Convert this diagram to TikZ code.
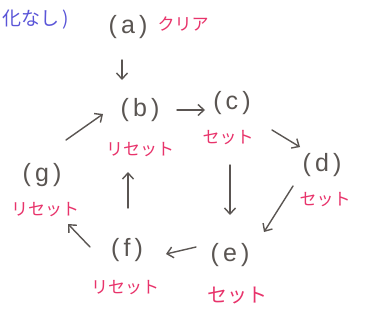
\documentclass[tikz,border=0pt]{standalone}
\usepackage{fontspec}
\setmainfont{Liberation Sans}
\newfontfamily\jpfont{Noto Sans CJK JP}
\usetikzlibrary{arrows.meta}
\definecolor{ink}{HTML}{5A5552}
\definecolor{redink}{HTML}{E8336B}
\definecolor{blueink}{HTML}{5A55D8}
\tikzset{
  st/.style={text=ink, font=\fontsize{25}{27}\selectfont, inner sep=1pt},
  lbl/.style={text=redink, font=\jpfont\fontsize{17}{19}\selectfont, inner sep=1pt},
  arr/.style={draw=ink, line width=1.4pt, line cap=round, -{Straight Barb[length=6pt,width=11pt,line width=1.4pt]}}
}
\begin{document}
\begin{tikzpicture}[x=1pt,y=-1pt]
\useasboundingbox[fill=white] (0,0) rectangle (366,324);
\node[text=blueink, font=\jpfont\fontsize{19}{21}\selectfont, anchor=west, inner sep=0pt] (init) at (2,20) {化なし\,)};
\node[st] (a) at (128,27) {(\,a\,)};
\node[lbl] (la) at (183,24) {クリア};
\node[st] (b) at (140,110) {(\,b\,)};
\node[lbl] (lb) at (140,150) {リセット};
\node[st] (c) at (232,103) {(\,c\,)};
\node[lbl] (lc) at (228,138) {セット};
\node[st] (d) at (322,165) {(\,d\,)};
\node[lbl] (ld) at (325,200) {セット};
\node[st] (e) at (230,255) {(\,e\,)};
\node[lbl] (le) at (237,296) {\fontsize{20}{22}\selectfont セット};
\node[st] (f) at (127,250) {(\,f\,)};
\node[lbl] (lf) at (125,288) {リセット};
\node[st] (g) at (42,175) {(\,g\,)};
\node[lbl] (lg) at (45,210) {リセット};
\coordinate (a1) at (122,60); \coordinate (a2) at (122,80);
\draw[arr] (a1) -- (a2);
\coordinate (bc1) at (177,110); \coordinate (bc2) at (205,110);
\draw[arr] (bc1) -- (bc2);
\coordinate (cd1) at (272,130); \coordinate (cd2) at (300,147);
\draw[arr] (cd1) -- (cd2);
\coordinate (ce1) at (230,165); \coordinate (ce2) at (230,215);
\draw[arr] (ce1) -- (ce2);
\coordinate (de1) at (293,186); \coordinate (de2) at (264,232);
\draw[arr] (de1) -- (de2);
\coordinate (ef1) at (196,247); \coordinate (ef2) at (166,254);
\draw[arr] (ef1) -- (ef2);
\coordinate (fb1) at (128,208); \coordinate (fb2) at (128,172);
\draw[arr] (fb1) -- (fb2);
\coordinate (fg1) at (90,247); \coordinate (fg2) at (68,224);
\draw[arr] (fg1) -- (fg2);
\coordinate (gb1) at (66,140); \coordinate (gb2) at (103,114);
\draw[arr] (gb1) -- (gb2);
\end{tikzpicture}
\end{document}
